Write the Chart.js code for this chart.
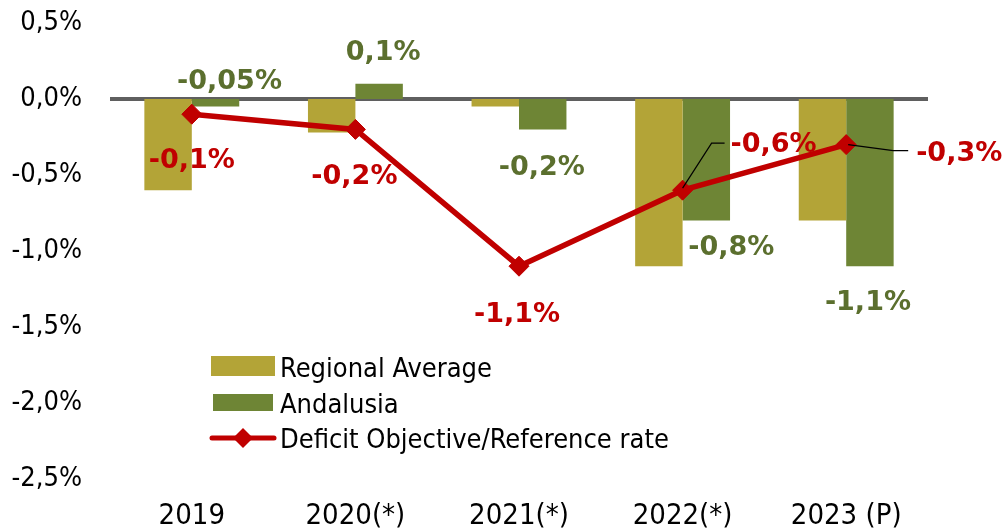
<!DOCTYPE html>
<html>
<head>
<meta charset="utf-8">
<script src="https://cdn.jsdelivr.net/npm/chart.js@4.4.0/dist/chart.umd.min.js"></script>
<style>
  html, body { margin: 0; padding: 0; background: #fff; }
  #wrap { width: 1003px; height: 532px; position: relative; }
</style>
</head>
<body>
<div id="wrap"><canvas id="deficit_chart"></canvas></div>
<script>
// chart data
const categories = ["2019", "2020(*)", "2021(*)", "2022(*)", "2023 (P)"];
const regional_average = [-0.6, -0.22, -0.05, -1.1, -0.8];
const andalusia = [-0.05, 0.1, -0.2, -0.8, -1.1];
const deficit_objective = [-0.1, -0.2, -1.1, -0.6, -0.3];
const andalusia_labels = ["-0,05%", "0,1%", "-0,2%", "-0,8%", "-1,1%"];
const deficit_labels = ["-0,1%", "-0,2%", "-1,1%", "-0,6%", "-0,3%"];
const series_names = ["Regional Average", "Andalusia", "Deficit Objective/Reference rate"];

// label placement (pixel offsets from the mark)
const andalusia_offsets = [[14, -25], [4, -31], [-1, 39], [25, 27], [-2, 37]];
const deficit_offsets = [[0, 47], [-1, 48], [-2, 49], [91, -45], [113, 9]];
const leader_lines = {3: [[0, -2], [29, -47], [42, -47]], 4: [[2, 0], [47, 6], [62, 6]]};

const gold = "#B3A437";
const green = "#6E8535";
const green_text = "#5B6F2E";
const red = "#C00000";
const axis_font = "'DejaVu Sans Condensed', 'DejaVu Sans', sans-serif";
const label_font = "bold 27px 'DejaVu Sans', Verdana, sans-serif";

function pct(v) {
  return v.toFixed(1).replace(".", ",") + "%";
}

// zero line, data labels and legend
const extras = {
  id: "extras",
  beforeDatasetsDraw(chart) {
    const ctx = chart.ctx;
    const y0 = chart.scales.y.getPixelForValue(0);
    ctx.save();
    ctx.strokeStyle = "#5F5F5F";
    ctx.lineWidth = 4;
    ctx.beginPath();
    ctx.moveTo(chart.chartArea.left, y0);
    ctx.lineTo(chart.chartArea.right, y0);
    ctx.stroke();
    ctx.restore();
  },
  afterDraw(chart) {
    const ctx = chart.ctx;
    ctx.save();
    ctx.textAlign = "center";
    ctx.textBaseline = "middle";
    ctx.font = label_font;

    const bars = chart.getDatasetMeta(2).data;
    bars.forEach((el, i) => {
      ctx.fillStyle = green_text;
      ctx.fillText(andalusia_labels[i], el.x + andalusia_offsets[i][0], el.y + andalusia_offsets[i][1]);
    });

    const pts = chart.getDatasetMeta(0).data;
    pts.forEach((el, i) => {
      if (leader_lines[i]) {
        ctx.strokeStyle = "#000";
        ctx.lineWidth = 1.2;
        ctx.beginPath();
        leader_lines[i].forEach((p, k) => {
          if (k == 0) ctx.moveTo(el.x + p[0], el.y + p[1]);
          else ctx.lineTo(el.x + p[0], el.y + p[1]);
        });
        ctx.stroke();
      }
      ctx.fillStyle = red;
      ctx.fillText(deficit_labels[i], el.x + deficit_offsets[i][0], el.y + deficit_offsets[i][1]);
    });

    // legend
    ctx.textAlign = "left";
    ctx.textBaseline = "alphabetic";
    ctx.font = "27px " + axis_font;
    ctx.fillStyle = gold;
    ctx.fillRect(211, 356, 64, 20);
    ctx.fillStyle = green;
    ctx.fillRect(213, 394, 60, 17);
    ctx.strokeStyle = red;
    ctx.lineWidth = 5;
    ctx.lineCap = "round";
    ctx.beginPath();
    ctx.moveTo(212, 438);
    ctx.lineTo(274, 438);
    ctx.stroke();
    ctx.fillStyle = red;
    ctx.beginPath();
    ctx.moveTo(243, 428);
    ctx.lineTo(253, 438);
    ctx.lineTo(243, 448);
    ctx.lineTo(233, 438);
    ctx.closePath();
    ctx.fill();
    ctx.fillStyle = "#000";
    ctx.fillText(series_names[0], 280, 377);
    ctx.fillText(series_names[1], 280, 413);
    ctx.fillText(series_names[2], 280, 448);
    ctx.restore();
  }
};

function create_chart() {
  const chart = new Chart(document.getElementById("deficit_chart"), {
    type: "bar",
    data: {
      labels: categories,
      datasets: [
        { type: "line", label: series_names[2], data: deficit_objective, order: 0,
          borderColor: red, backgroundColor: red, borderWidth: 5.5,
          pointStyle: "rectRot", pointRadius: 10, pointHoverRadius: 10,
          pointBackgroundColor: red, pointBorderColor: red, pointBorderWidth: 1 },
        { label: series_names[0], data: regional_average, order: 1,
          backgroundColor: gold, categoryPercentage: 0.58, barPercentage: 1 },
        { label: series_names[1], data: andalusia, order: 1,
          backgroundColor: green, categoryPercentage: 0.58, barPercentage: 1 }
      ]
    },
    options: {
      responsive: false,
      animation: false,
      layout: { padding: { top: 23, right: 75, left: 0, bottom: 0 } },
      plugins: { legend: { display: false }, tooltip: { enabled: false } },
      scales: {
        x: {
          grid: { display: false, drawTicks: false },
          border: { display: false },
          ticks: { color: "#000", padding: 20, font: { family: axis_font, size: 29 } },
          afterFit: (scale) => {
            scale.height = 53;
            scale.paddingLeft = 0; scale.paddingRight = 0;
          }
        },
        y: {
          min: -2.5, max: 0.5,
          grid: { display: false, drawTicks: false },
          border: { display: false },
          ticks: { stepSize: 0.5, color: "#000", padding: 28,
                   font: { family: axis_font, size: 27 },
                   callback: (v) => pct(v) },
          afterFit: (scale) => {
            scale.width = 110;
            scale.paddingTop = 0; scale.paddingBottom = 0;
          }
        }
      }
    },
    plugins: [extras]
  });
  return chart;
}

document.getElementById("deficit_chart").width = 1003;
document.getElementById("deficit_chart").height = 532;
create_chart();
</script>
</body>
</html>
